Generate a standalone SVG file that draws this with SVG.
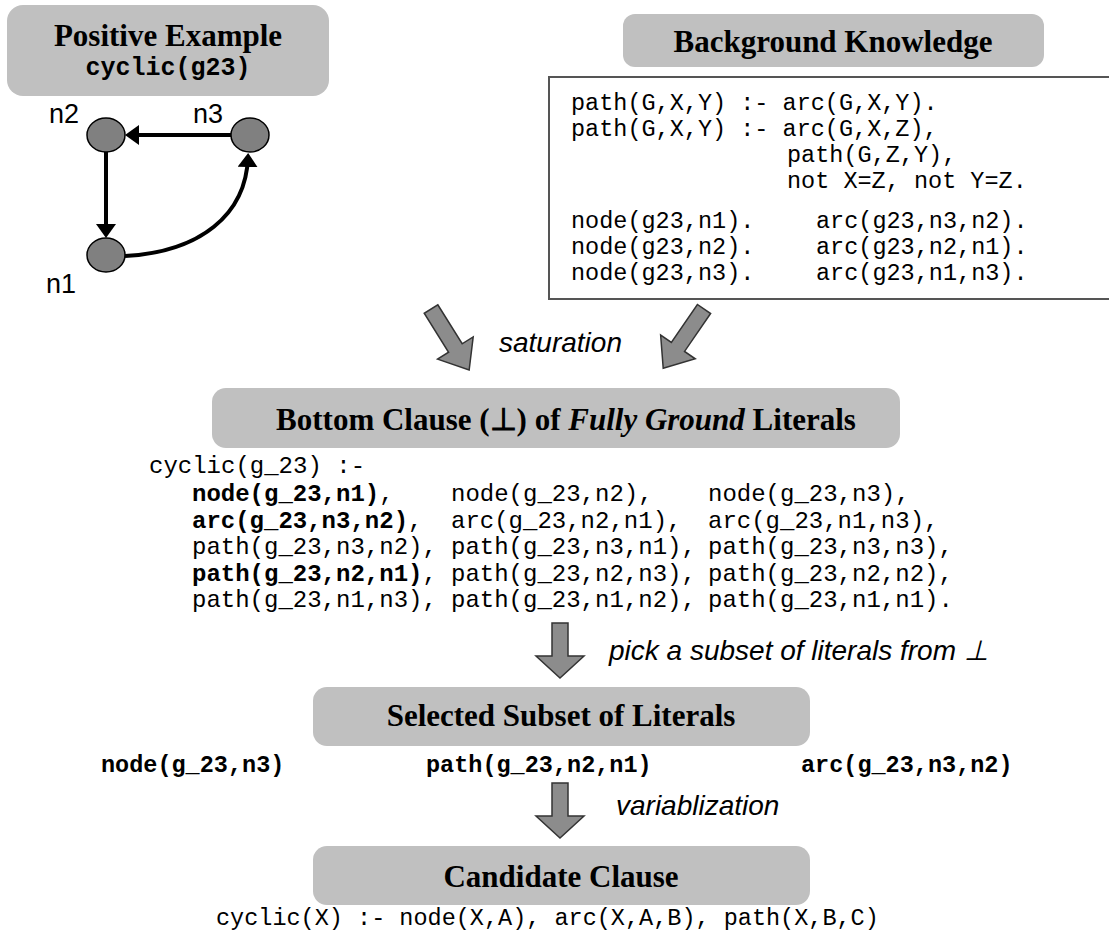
<svg xmlns="http://www.w3.org/2000/svg" width="1109" height="936" viewBox="0 0 1109 936">
<style>
.box{fill:#c0c0c0;stroke:none}
.title{font-family:"Liberation Serif","Times New Roman",serif;font-weight:bold;font-size:31px;fill:#000;text-anchor:middle}
.mono{font-family:"Liberation Mono","Courier New",monospace;font-size:23.5px;fill:#000;white-space:pre}
.mb{font-weight:bold}
.lit{font-size:24px}
.lbl{font-family:"Liberation Sans",Arial,sans-serif;font-size:27px;fill:#000}
.ital{font-family:"Liberation Sans",Arial,sans-serif;font-style:italic;font-size:28px;fill:#000}
.gnode{fill:#808080;stroke:#000;stroke-width:1.5}
.edge{fill:none;stroke:#000;stroke-width:4}
.blk{fill:#8c8c8c;stroke:#333;stroke-width:1.5}
</style>
<defs>
<marker id="ah" viewBox="0 0 14 20" refX="10" refY="10" markerWidth="14" markerHeight="20" markerUnits="userSpaceOnUse" orient="auto">
<path d="M0,0 L14,10 L0,20 Z" fill="#000"/>
</marker>
<path id="blockArrow" d="M0,-8 L46,-8 L46,-21 L72,0 L46,21 L46,8 L0,8 Z"/>
<path id="downArrow" d="M-8,0 L8,0 L8,33 L24,33 L0,55 L-24,33 L-8,33 Z"/>
</defs>

<g id="positive-example">
<rect class="box" x="7" y="5" width="322" height="91" rx="16"/>
<text class="title" x="168" y="46">Positive Example</text>
<text class="mono mb" x="168" y="75" style="font-size:25px;text-anchor:middle">cyclic(g23)</text>
</g>

<g id="graph-node-n2">
<ellipse class="gnode" cx="106" cy="135" rx="19" ry="17"/>
<text class="lbl" x="49" y="123">n2</text>
</g>
<g id="graph-node-n3">
<ellipse class="gnode" cx="250" cy="135" rx="19" ry="17"/>
<text class="lbl" x="193" y="123">n3</text>
</g>
<g id="graph-node-n1">
<ellipse class="gnode" cx="106" cy="255" rx="19" ry="17"/>
<text class="lbl" x="46" y="293">n1</text>
</g>

<g id="background-knowledge">
<rect class="box" x="623" y="14" width="421" height="53" rx="12"/>
<text class="title" x="833" y="52">Background Knowledge</text>
</g>

<g id="bk-code">
<rect x="549" y="77" width="620" height="222" fill="#fff" stroke="#555" stroke-width="2"/>
<text class="mono" x="571" y="110">path(G,X,Y) :- arc(G,X,Y).</text>
<text class="mono" x="571" y="136">path(G,X,Y) :- arc(G,X,Z),</text>
<text class="mono" x="787" y="162">path(G,Z,Y),</text>
<text class="mono" x="787" y="188">not X=Z, not Y=Z.</text>
<text class="mono" x="571" y="228">node(g23,n1).</text>
<text class="mono" x="816" y="228">arc(g23,n3,n2).</text>
<text class="mono" x="571" y="254">node(g23,n2).</text>
<text class="mono" x="816" y="254">arc(g23,n2,n1).</text>
<text class="mono" x="571" y="280">node(g23,n3).</text>
<text class="mono" x="816" y="280">arc(g23,n1,n3).</text>
</g>

<g id="bottom-clause">
<rect class="box" x="212" y="388" width="688" height="60" rx="14"/>
<text class="title" x="566" y="430">Bottom Clause (⊥) of <tspan font-style="italic">Fully Ground</tspan> Literals</text>
</g>

<g id="bottom-clause-literals">
<text class="mono lit" x="149" y="473">cyclic(g_23) :-</text>
<text class="mono lit" x="192" y="501"><tspan class="mb">node(g_23,n1)</tspan>,</text>
<text class="mono lit" x="451" y="501">node(g_23,n2),</text>
<text class="mono lit" x="708" y="501">node(g_23,n3),</text>
<text class="mono lit" x="192" y="528"><tspan class="mb">arc(g_23,n3,n2)</tspan>,</text>
<text class="mono lit" x="451" y="528">arc(g_23,n2,n1),</text>
<text class="mono lit" x="708" y="528">arc(g_23,n1,n3),</text>
<text class="mono lit" x="192" y="554">path(g_23,n3,n2),</text>
<text class="mono lit" x="451" y="554">path(g_23,n3,n1),</text>
<text class="mono lit" x="708" y="554">path(g_23,n3,n3),</text>
<text class="mono lit" x="192" y="581"><tspan class="mb">path(g_23,n2,n1)</tspan>,</text>
<text class="mono lit" x="451" y="581">path(g_23,n2,n3),</text>
<text class="mono lit" x="708" y="581">path(g_23,n2,n2),</text>
<text class="mono lit" x="192" y="607">path(g_23,n1,n3),</text>
<text class="mono lit" x="451" y="607">path(g_23,n1,n2),</text>
<text class="mono lit" x="708" y="607">path(g_23,n1,n1).</text>
</g>

<g id="selected-subset">
<rect class="box" x="313" y="687" width="497" height="59" rx="14"/>
<text class="title" x="561" y="726">Selected Subset of Literals</text>
</g>

<g id="selected-literals">
<text class="mono mb" x="101" y="772">node(g_23,n3)</text>
<text class="mono mb" x="426" y="772">path(g_23,n2,n1)</text>
<text class="mono mb" x="801" y="772">arc(g_23,n3,n2)</text>
</g>

<g id="candidate-clause">
<rect class="box" x="313" y="846" width="497" height="59" rx="14"/>
<text class="title" x="561" y="887">Candidate Clause</text>
</g>

<g id="candidate-text">
<text class="mono" x="216" y="925">cyclic(X) :- node(X,A), arc(X,A,B), path(X,B,C)</text>
</g>

<g id="connectors">
<path class="edge" d="M231,135 L129,135" marker-end="url(#ah)"/>
<path class="edge" d="M106,152 L106,234" marker-end="url(#ah)"/>
<path class="edge" d="M125,256 C200,252 246,215 248,157" marker-end="url(#ah)"/>
<use href="#blockArrow" class="blk" transform="translate(431,309) rotate(58)"/>
<use href="#blockArrow" class="blk" transform="translate(704,309) rotate(124.5)"/>
<text class="ital" x="499" y="352">saturation</text>
<use href="#downArrow" class="blk" transform="translate(560,623)"/>
<text class="ital" x="609" y="660">pick a subset of literals from ⊥</text>
<use href="#downArrow" class="blk" transform="translate(560,783)"/>
<text class="ital" x="616" y="815">variablization</text>
</g>
</svg>
